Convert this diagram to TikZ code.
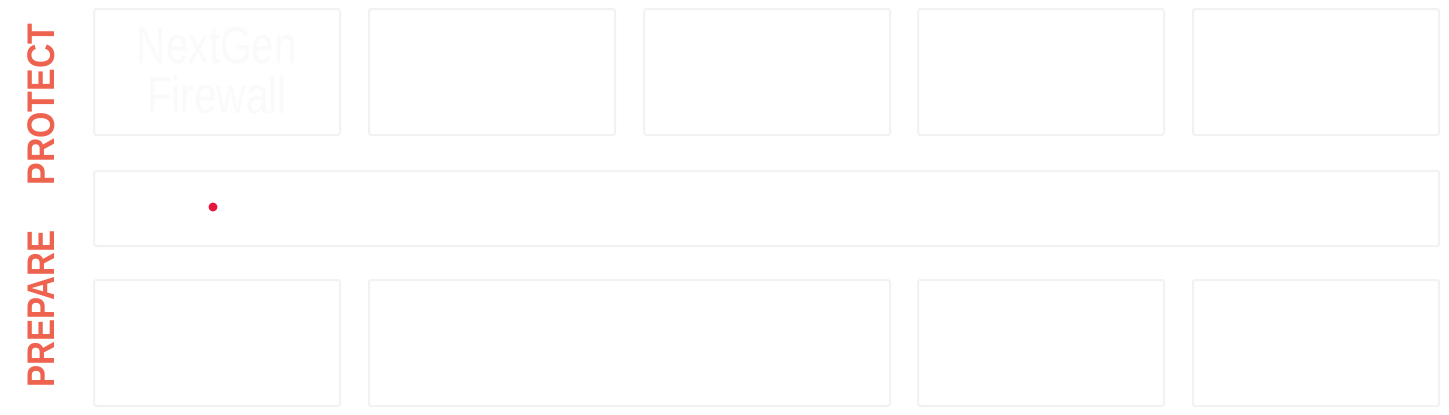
\documentclass[tikz,border=0pt]{standalone}
\usepackage{fontspec}
\setmainfont{Liberation Sans}
\definecolor{boxline}{HTML}{F2F2F2}
\definecolor{boxfill}{HTML}{FFFFFF}
\definecolor{labelred}{HTML}{EE6350}
\definecolor{dotred}{HTML}{E8163C}
\definecolor{ghost}{HTML}{FAFAFA}
\begin{document}
\begin{tikzpicture}[x=1pt,y=-1pt,
  panel/.style={draw=boxline,line width=2pt,fill=boxfill,rounded corners=2pt},
  sidelabel/.style={text=labelred,font=\bfseries\fontsize{38.5}{40}\selectfont,rotate=90,inner sep=0pt,anchor=center},
  ghosttext/.style={text=ghost,font=\fontsize{52}{50}\selectfont,align=center,inner sep=0pt,xscale=0.78}
]
\useasboundingbox (0,0) rectangle (1449,415);
% row 1
\draw[panel] (94,9) rectangle (340,135);
\node[ghosttext] (ngfw) at (217,71) {NextGen\\Firewall};
\draw[panel] (369,9) rectangle (615,135);
\draw[panel] (644,9) rectangle (890,135);
\draw[panel] (918,9) rectangle (1164,135);
\draw[panel] (1193,9) rectangle (1439,135);
% row 2
\draw[panel] (94,171) rectangle (1439,246);
\fill[dotred] (213,207) circle[radius=4.5pt];
% row 3
\draw[panel] (94,280) rectangle (340,406);
\draw[panel] (369,280) rectangle (890,406);
\draw[panel] (918,280) rectangle (1164,406);
\draw[panel] (1193,280) rectangle (1439,406);
% side labels
\node[sidelabel,xscale=0.88] (protect) at (41,104.5) {PROTECT};
\node[sidelabel,xscale=0.86] (prepare) at (41,309) {PREPARE};
\end{tikzpicture}
\end{document}
